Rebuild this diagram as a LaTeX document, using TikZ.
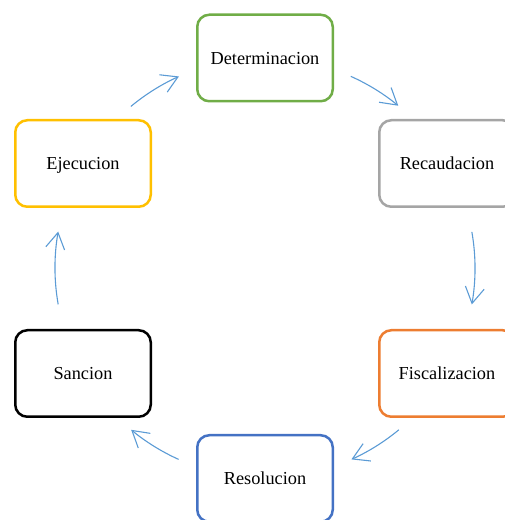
\documentclass[tikz,border=0pt]{standalone}
\usepackage{fontspec}
\setmainfont{Liberation Serif}
\usetikzlibrary{arrows.meta,calc}
\definecolor{cgreen}{HTML}{70AD47}
\definecolor{cgray}{HTML}{A5A5A5}
\definecolor{corange}{HTML}{ED7D31}
\definecolor{cblue}{HTML}{4472C4}
\definecolor{cgold}{HTML}{FFC000}
\definecolor{carrow}{HTML}{5B9BD5}
\begin{document}
\begin{tikzpicture}[x=1pt,y=1pt,
  box/.style={draw, line width=2.5pt, rounded corners=12pt, fill=white,
    minimum width=135.5pt, minimum height=86.5pt, inner sep=0pt,
    text height=12.5pt, text depth=0pt,
    font=\fontsize{18.3}{22}\selectfont},
  arr/.style={draw=carrow, line width=1.1pt, -{Straight Barb[length=16pt,width=19pt,line width=1.1pt]}}]
\useasboundingbox (0,0) rectangle (504,520);
\coordinate (c) at (265,252);
\node[box, draw=cgreen]  (det) at (265,462)   {Determinacion};
\node[box, draw=cgray]   (rec) at (447,356.5) {Recaudacion};
\node[box, draw=corange] (fis) at (447,146.5) {Fiscalizacion};
\node[box, draw=cblue]   (res) at (265,41.5)  {Resolucion};
\node[box, draw=black]   (san) at (83,146.5)  {Sancion};
\node[box, draw=cgold]   (eje) at (83,356.5)  {Ejecucion};
\draw[arr] ($(c)+(129.7:210)$) arc[start angle=129.7, end angle=114.2, radius=210];
\draw[arr] ($(c)+(65.9:210)$) arc[start angle=65.9, end angle=50.6, radius=210];
\draw[arr] ($(c)+(9.9:210)$) arc[start angle=9.9, end angle=-10.0, radius=210];
\draw[arr] ($(c)+(-50.4:210)$) arc[start angle=-50.4, end angle=-65.7, radius=210];
\draw[arr] ($(c)+(-114.3:210)$) arc[start angle=-114.3, end angle=-129.6, radius=210];
\draw[arr] ($(c)+(190.0:210)$) arc[start angle=190.0, end angle=170.0, radius=210];
\end{tikzpicture}
\end{document}
